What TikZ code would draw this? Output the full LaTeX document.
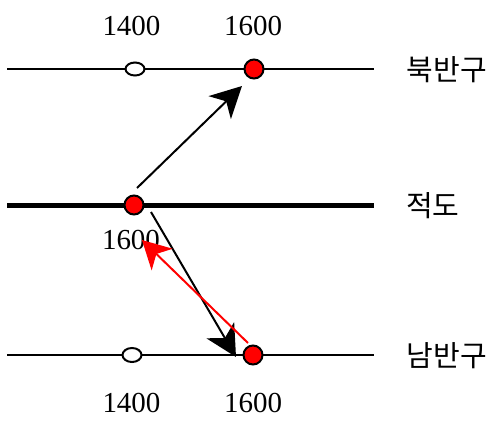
\documentclass[tikz,border=0pt]{standalone}
\usepackage{fontspec}
\setmainfont{Liberation Serif}
\newfontfamily\krfont{Noto Sans CJK KR}
\usetikzlibrary{arrows.meta,shapes.geometric}
\begin{document}
\begin{tikzpicture}[x=1pt,y=-1pt,
  lat/.style={line width=2pt},
  equ/.style={line width=5pt},
  reddot/.style={circle,draw=black,line width=2pt,fill=red,minimum size=19pt,inner sep=0pt},
  opendot/.style={ellipse,draw=black,line width=2pt,fill=white,minimum width=19pt,minimum height=13pt,inner sep=0pt},
  num/.style={font=\fontsize{29}{32}\selectfont,inner sep=0pt},
  lab/.style={font=\krfont\fontsize{29}{32}\selectfont,inner sep=0pt},
  bigarrow/.style={line width=2pt,-{Stealth[length=31pt,width=32pt,inset=9pt]}},
  redarrow/.style={draw=red,line width=2pt,-{Stealth[length=28pt,width=30pt,inset=8pt]}}]
\useasboundingbox (0,0) rectangle (491,421);
\coordinate (nl) at (7,69); \coordinate (nr) at (374,69);
\coordinate (el) at (7,205); \coordinate (er) at (374,205);
\coordinate (sl) at (7,355); \coordinate (sr) at (374,355);
\draw[lat] (nl) -- (nr);
\draw[equ] (el) -- (er);
\draw[lat] (sl) -- (sr);
\node[opendot] (n14) at (135,69) {};
\node[reddot] (n16) at (254,69) {};
\node[reddot] (e16) at (134,205) {};
\node[opendot,minimum height=14pt] (s14) at (132,355) {};
\node[reddot] (s16) at (253,355) {};
\node[num] (tn14) at (131.5,25.5) {1400};
\node[num] (tn16) at (253,25.5) {1600};
\node[num] (te16) at (131,239.5) {1600};
\node[num] (ts14) at (131.5,402.5) {1400};
\node[num] (ts16) at (253,402.5) {1600};
\node[lab] (ln) at (447,70) {북반구};
\node[lab,anchor=west] (le) at (406,206) {적도};
\node[lab] (ls) at (447,356) {남반구};
\coordinate (a1s) at (137,188); \coordinate (a1e) at (242,86);
\coordinate (a2s) at (151,212); \coordinate (a2e) at (236,357);
\coordinate (a3s) at (248,343); \coordinate (a3e) at (142,240);
\draw[bigarrow] (a1s) -- (a1e);
\draw[bigarrow] (a2s) -- (a2e);
\draw[redarrow] (a3s) -- (a3e);
\end{tikzpicture}
\end{document}
